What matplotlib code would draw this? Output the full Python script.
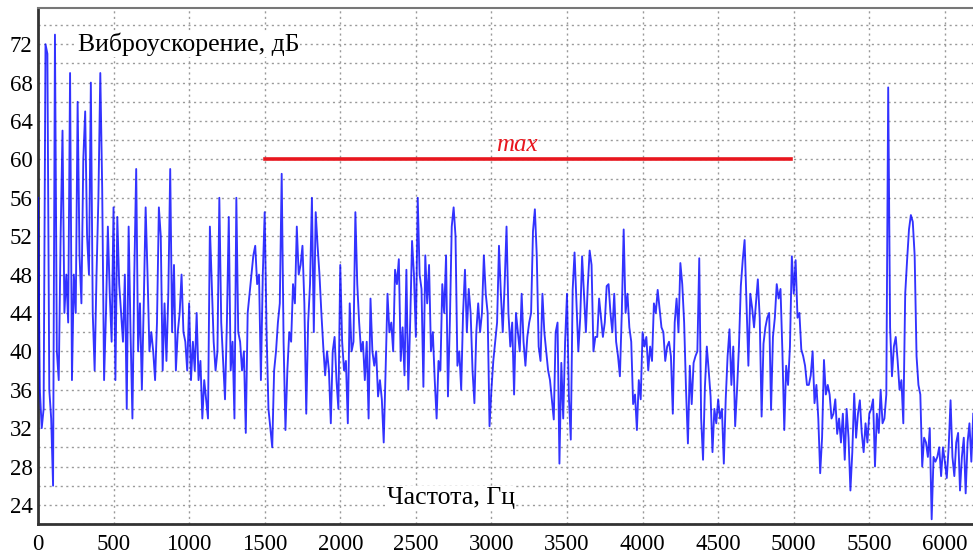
import numpy as np
import matplotlib
matplotlib.use("Agg")
import matplotlib.pyplot as plt

# Spectrum, one value every 12.5 Hz (dB)
freq_step = 12.5
level_0000 = [56, 36, 32, 34, 72, 71, 36, 33, 26, 73, 40, 37, 52, 63, 44, 48, 43, 69, 37, 48,
              44, 66, 50, 45, 60, 65, 52, 48, 68, 44, 38, 48, 56, 69, 57, 37, 44, 53, 46, 41]
level_0500 = [55, 37, 54, 47, 44, 41, 48, 34, 53, 42, 33, 48, 59, 40, 45, 36, 45, 55, 48, 40,
              42, 40, 37, 43, 55, 52, 38, 45, 39, 46, 59, 42, 49, 38, 42, 44, 48, 42, 41, 38]
level_1000 = [45, 37, 41, 38, 44, 37, 39, 33, 37, 35, 33, 53, 47, 41, 38, 40, 56, 43, 39, 35,
              43, 54, 38, 41, 33, 56, 42, 41, 38, 40, 31.5, 44, 46, 48, 50, 51, 47, 48, 37, 48]
level_1500 = [54.5, 42, 34, 32, 30, 38, 40, 43, 45, 58.5, 41, 31.8, 38, 42, 41, 47, 45, 53, 48, 49,
              51, 45, 33.5, 43, 47, 56, 42, 54.5, 51, 48, 44, 40.5, 37.5, 40, 38, 32.5, 40, 41.5, 37, 34]
level_2000 = [49, 41, 38, 39, 32.5, 45, 40, 41, 54.5, 47, 43, 40, 41, 37, 41, 33, 45.5, 40, 38.5, 40,
              35.3, 37, 35, 30.5, 38, 46, 42, 43, 40, 48.5, 47, 49.6, 39, 42.5, 37.5, 48.5, 36, 43, 51.5, 48]
level_2500 = [41.5, 56, 48, 46.5, 36.3, 50, 45, 49, 40, 42, 37, 33, 39, 38, 47, 44, 50, 35.3, 43, 53,
              55, 52, 38.5, 40, 36, 44, 48.5, 42, 46.5, 44, 38, 34.6, 42, 45, 42, 44, 50, 46, 44, 32.2]
level_3000 = [36, 39, 41, 43, 51, 46, 42, 47, 53, 44, 40.5, 43, 35.5, 44, 42, 40, 46, 41, 38.5, 41.5,
              43, 44, 52.5, 54.8, 50, 40.5, 39, 46, 42, 40, 38, 37, 35, 32.9, 42, 43, 28.3, 38.8, 33, 41]
level_3500 = [46, 35.3, 30.8, 46.4, 50.3, 45, 40, 43.5, 49.9, 46, 42, 46.8, 50.5, 49, 40, 41.5, 41.5, 45.5, 43.5, 41.5,
              43, 46.8, 47, 44, 42, 46, 41, 39.5, 37.4, 44, 52.7, 44, 46, 42.5, 41, 34.5, 35.5, 31.8, 37, 35]
level_4000 = [42, 40.5, 41.5, 38, 40.5, 39, 45, 44, 46.4, 44.5, 42.5, 42, 39, 40.5, 41, 39.5, 33.5, 43, 45.5, 42,
              49.2, 47, 43, 36, 30.4, 38.5, 34.5, 38.8, 39.5, 40, 49.7, 33, 28.7, 36.3, 40.5, 38, 35.3, 29.5, 34, 32.5]
level_4500 = [35, 33, 34, 28.3, 35, 39.5, 42.3, 36.5, 40.5, 32.2, 36, 40.5, 46.8, 49.5, 51.6, 45, 38.5, 46, 44.5, 42.5,
              45, 47.5, 43.5, 33.2, 40.8, 42.5, 43.5, 44, 33.9, 41.5, 43.5, 47, 45.5, 46.5, 40, 31.8, 38.5, 36.5, 40.5, 49.9]
level_5000 = [46, 49.5, 43.5, 44, 40.2, 39.5, 38.5, 36.5, 36.5, 37.5, 40, 34.6, 36.5, 33, 27.3, 31, 39.1, 35.5, 36.5, 35.5,
              33, 33.5, 35, 31.4, 33, 30.5, 33.5, 28.7, 34, 31, 25.5, 29.5, 35.6, 31, 33.5, 34.9, 31.5, 29.5, 32.5, 30.5]
level_5500 = [33.5, 34, 35, 28, 33.5, 31.5, 36, 32.5, 33, 35.5, 67.5, 42.5, 37.4, 40.5, 41.5, 39, 36, 37, 32.5, 46,
              49.5, 52.7, 54.2, 53.5, 50, 39.5, 36.5, 35.5, 28, 31, 30.5, 29, 32, 22.5, 29, 28.5, 29, 30, 27, 30]
level_6000 = [28.5, 26.8, 30, 34.9, 29, 27, 30.5, 31.5, 25.5, 29, 31, 25.2, 30.5, 32.5, 28.5, 33.5]

# Limit line
max_level = 60
max_from, max_to = 1500, 4980

x_ticks = list(range(0, 6001, 500))
y_ticks = list(range(24, 73, 4))

levels = np.array(level_0000 + level_0500 + level_1000 + level_1500 + level_2000 + level_2500 +
                  level_3000 + level_3500 + level_4000 + level_4500 + level_5000 + level_5500 + level_6000)
freqs = np.arange(len(levels)) * freq_step

serif = "Liberation Serif"
fig = plt.figure(figsize=(9.73, 5.54), dpi=100)
ax = fig.add_axes([0.039, 0.054, 0.961, 0.932])

ax.plot(freqs, levels, color="#0000ff", lw=1.35, alpha=0.8, zorder=3)
ax.plot([max_from, max_to], [max_level, max_level], color="#e8161e", lw=2.6, zorder=4)
ax.text(3166, 61.5, "max", color="#e8161e", style="italic", family=serif, fontsize=18,
        ha="center", va="center", zorder=5)

ax.set_xlim(0, 6186)
ax.set_ylim(22, 75.8)
ax.set_xticks(x_ticks)
ax.set_yticks(y_ticks)
ax.set_yticks(list(range(22, 76, 2)), minor=True)

grid_kw = dict(color="#9a9a9a", linestyle=(0, (1.5, 2.5)), linewidth=1.0)
ax.grid(True, which="major", axis="x", **grid_kw)
ax.grid(True, which="both", axis="y", **grid_kw)
ax.set_axisbelow(True)

ax.tick_params(axis="both", which="both", length=0)
ax.tick_params(axis="y", pad=4)
ax.tick_params(axis="x", pad=7)
for lab in ax.get_xticklabels() + ax.get_yticklabels():
    lab.set_family(serif)
    lab.set_fontsize(16.5)

for side in ("left", "bottom"):
    ax.spines[side].set_color("#333333")
    ax.spines[side].set_linewidth(2.0)
ax.spines["top"].set_color("#777777")
ax.spines["top"].set_linewidth(1.5)
ax.spines["right"].set_visible(False)

ax.text(262, 72.0, "Виброускорение, дБ", family=serif, fontsize=18.5, ha="left", va="center",
        zorder=6, bbox=dict(facecolor="white", edgecolor="none", pad=1))
ax.text(2730, 24.7, "Частота, Гц", family=serif, fontsize=18.5, ha="center", va="center",
        zorder=6, bbox=dict(facecolor="white", edgecolor="none", pad=1))

fig.savefig("out.png", dpi=100)
